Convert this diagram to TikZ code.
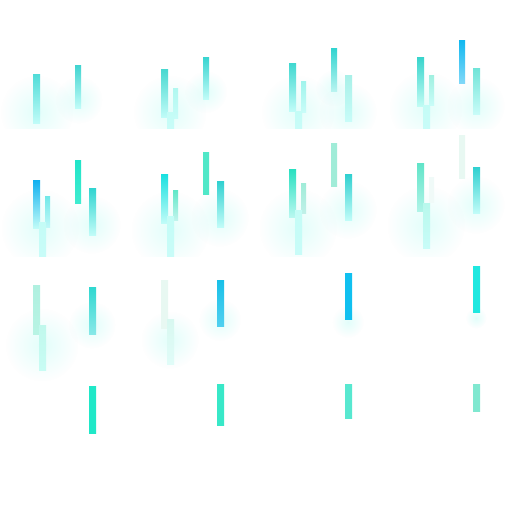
\documentclass[tikz,border=0pt]{standalone}
\usepackage{tikz}
\usetikzlibrary{fadings}
\definecolor{glowcyan}{HTML}{B4FCF4}
\tikzfading[name=softglow, inner color=transparent!62, outer color=transparent!100]
\tikzstyle{glow}=[fill=glowcyan, path fading=softglow]
\newcommand{\streak}[6]{%
  \definecolor{streaktop}{HTML}{#5}\definecolor{streakbot}{HTML}{#6}%
  \shade[top color=streaktop, bottom color=streakbot] (#1,#3) rectangle (#2,#4);}

\begin{document}
\begin{tikzpicture}[x=1pt,y=-1pt]
\useasboundingbox[fill=white] (0,0) rectangle (512,512);
% glow, row by row
\begin{scope}
  \clip (0,0) rectangle (512,128);
  \foreach \gx/\gy/\gr in {37/112/28, 79/100/18, 170/112/28, 206/92/16,
      298/112/28, 348/112/22, 334/88/14, 426/108/28, 476/106/22}
    \fill[glow] (\gx,\gy) circle (1.3*\gr);
\end{scope}
\begin{scope}
  \clip (0,128) rectangle (512,256);
  \foreach \gx/\gy/\gr in {40/228/30, 92/225/22, 170/230/30, 220/218/22,
      298/228/30, 348/210/22, 426/225/30, 476/205/22}
    \fill[glow] (\gx,\gy) circle (1.3*\gr);
\end{scope}
\begin{scope}
  \clip (0,256) rectangle (512,384);
  \foreach \gx/\gy/\gr in {42/345/28, 92/325/18, 170/340/22, 220/320/16,
      348/322/12, 476/318/8}
    \fill[glow] (\gx,\gy) circle (1.3*\gr);
\end{scope}
% first row
\foreach \xa/\xb/\ya/\yb/\ct/\cb in {
    33/40/74/123/50DCD8/C0FCF8, 75/81/65/108/40D4D0/C0FCF8,
    161/168/69/117/48D8D0/C0FCF8, 173/178/88/118/B0F8F0/C8FCF8, 167/174/112/128/C4FCF6/C8FCF8,
    203/209/57/99/38D4D0/C0FCF8,
    289/296/63/111/40D8D0/C0FCF8, 301/306/81/112/A0F4EC/C8FCF8, 295/302/111/128/C4FCF6/C8FCF8,
    331/337/48/91/30D4D0/B8F4F0, 345/352/75/121/A8F0E8/C8FCF8,
    417/424/57/106/38D4CC/C0FCF4, 429/434/75/105/A0F0E0/C8FCF8, 423/430/105/128/C4FCF6/C8FCF8,
    459/465/40/83/10B8F0/80D8F8, 473/480/68/114/70E4D8/C8FCF8}
  \streak{\xa}{\xb}{\ya}{\yb}{\ct}{\cb};
% second row
\foreach \xa/\xb/\ya/\yb/\ct/\cb in {
    33/40/180/228/10B0F0/C0FCF8, 45/50/196/227/70E8E8/C0F8F8, 39/46/222/256/C4FCF6/C8FCF8,
    75/81/160/203/20E4C8/40ECD0, 89/96/188/235/30D4D0/C0FCF8,
    161/168/174/223/18E0E0/C0FCF8, 173/178/190/220/60E8C8/C0F4EC, 167/174/216/256/C4FCF6/C8FCF8,
    203/209/152/194/50E8C8/50E8C8, 217/224/181/227/30D0D0/C0FCF8,
    289/296/169/217/28E0C0/B8F8F0, 301/306/183/213/A0ECD8/C0F0E8, 295/302/210/254/C4FCF6/C8FCF8,
    331/337/143/186/A0ECD8/A0ECD8, 345/352/174/220/30D0D0/C0FCF8,
    417/424/163/211/60E4C8/B0F4E8, 429/434/177/202/F0FAF8/F0FAF8, 423/430/203/248/B8F8EC/C8FCF8,
    459/465/135/178/E8F8F2/E8F8F2, 473/480/167/213/30D0D0/C0FCF8}
  \streak{\xa}{\xb}{\ya}{\yb}{\ct}{\cb};
% third row
\foreach \xa/\xb/\ya/\yb/\ct/\cb in {
    33/40/285/334/B0F0E0/B8F4E4, 39/46/325/370/C0F8EC/C8FCF4, 89/96/287/334/30D8D0/88E8E8,
    161/168/280/328/E8F8F2/E8F8F2, 167/174/319/364/D8F8F0/E0FCF8, 217/224/280/326/18C0E8/50D0F0,
    345/352/273/319/10C0F0/10C0F0, 473/480/266/312/20E8E0/20E8E0}
  \streak{\xa}{\xb}{\ya}{\yb}{\ct}{\cb};
% last row
\foreach \xa/\xb/\ya/\yb/\ct in {
    89/96/386/433/20E8C8, 217/224/384/425/38E8C8,
    345/352/384/418/58E8D0, 473/480/384/411/80E8D0}
  \streak{\xa}{\xb}{\ya}{\yb}{\ct}{\ct};
\end{tikzpicture}
\end{document}
